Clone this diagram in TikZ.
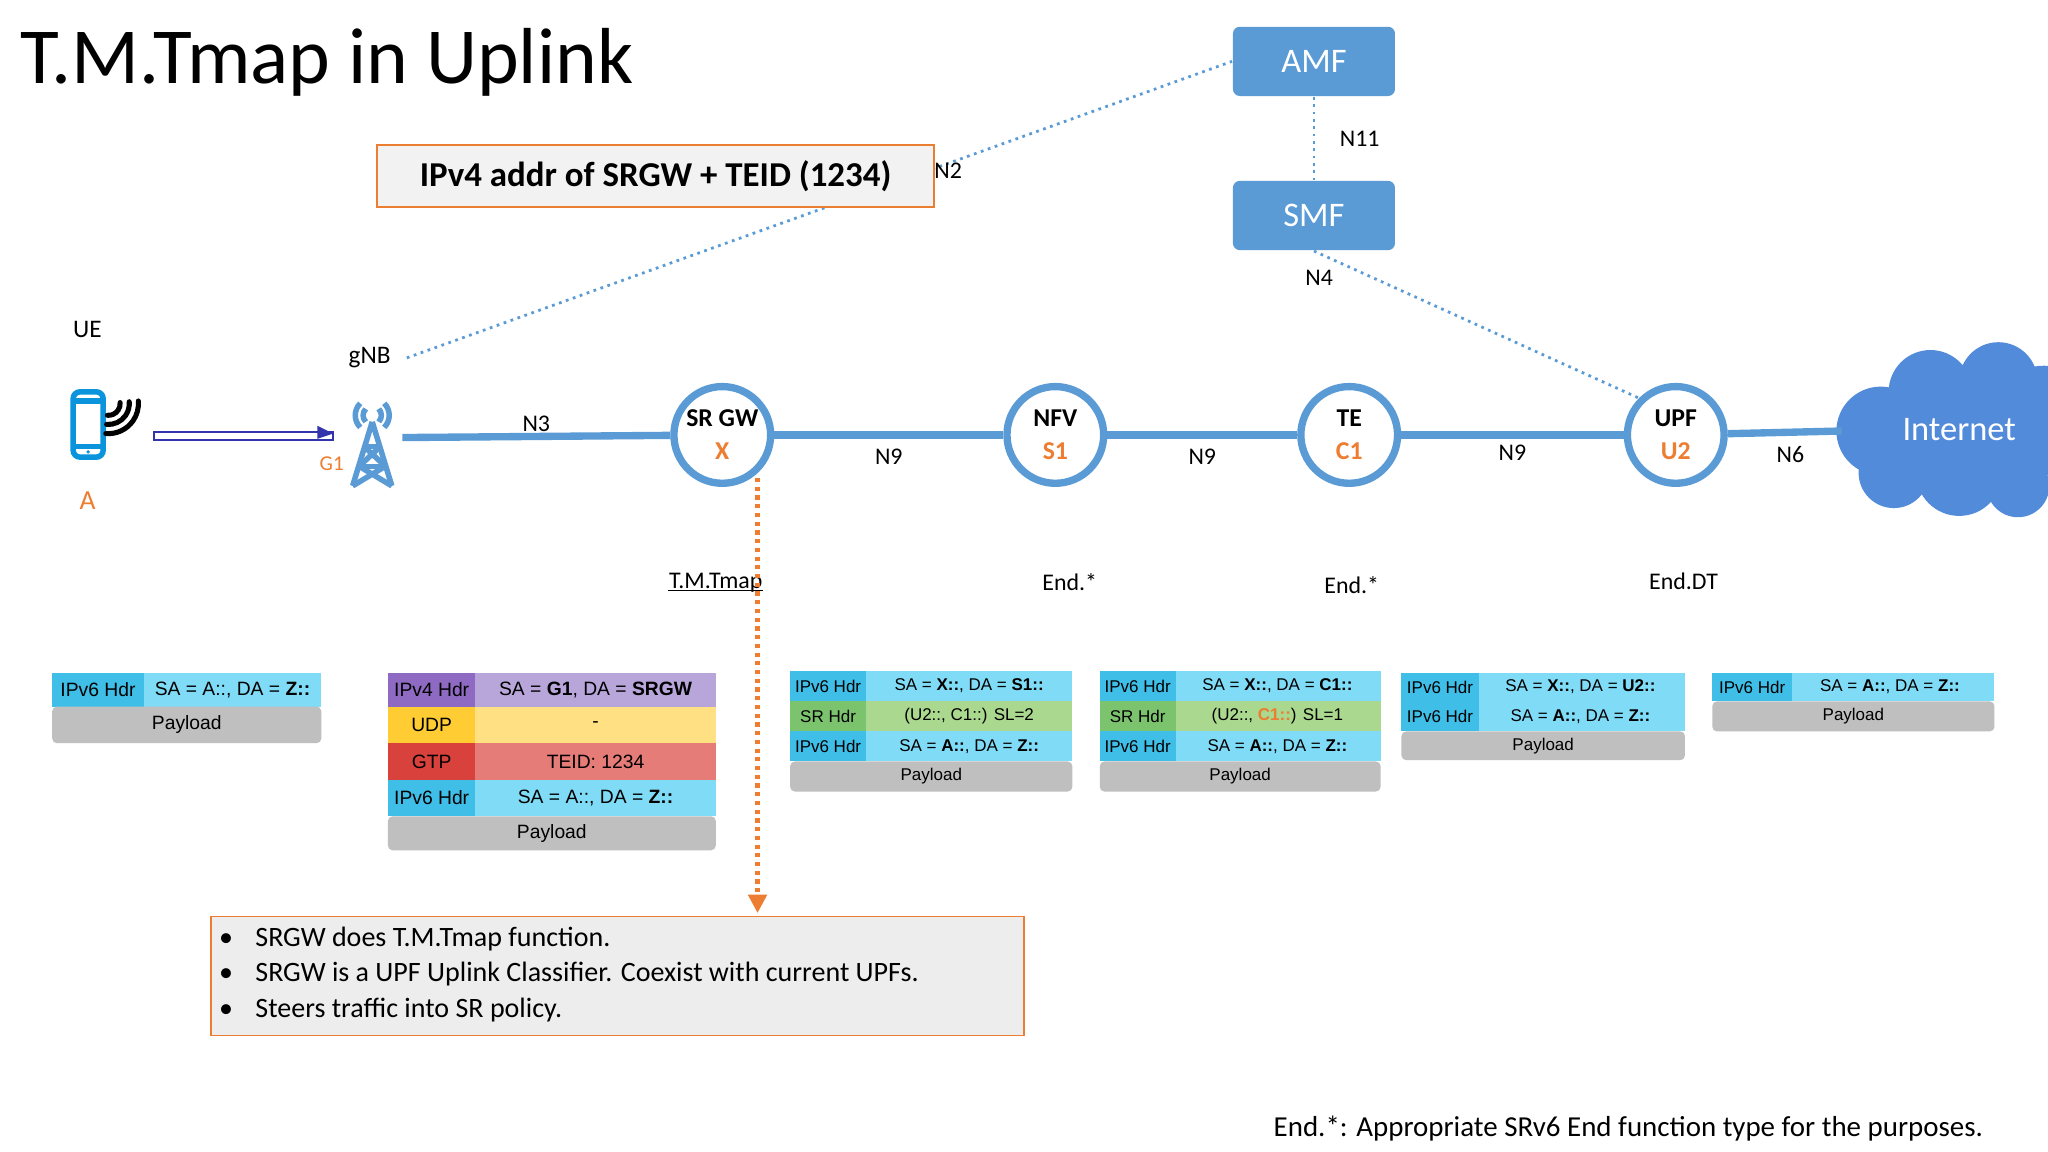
\documentclass[tikz,border=0pt]{standalone}
\usepackage{fontspec}
\setmainfont{Carlito}
\newfontfamily\arialf{Liberation Sans}
\usetikzlibrary{arrows.meta}
\definecolor{tblue}{HTML}{5B9BD5}
\definecolor{torange}{HTML}{ED7D31}
\definecolor{cyanL}{HTML}{3FBFE8}
\definecolor{cyanR}{HTML}{80DCF6}
\definecolor{grnL}{HTML}{7CC36E}
\definecolor{grnR}{HTML}{A9D88E}
\definecolor{purL}{HTML}{8E6AC2}
\definecolor{purR}{HTML}{B8A6DA}
\definecolor{yelL}{HTML}{FFCC33}
\definecolor{yelR}{HTML}{FFE083}
\definecolor{redL}{HTML}{D8413C}
\definecolor{redR}{HTML}{E67C78}
\definecolor{payg}{HTML}{BFBFBF}
\tikzset{
  box/.style={fill=tblue, text=white, minimum width=1.24cm, minimum height=0.53cm, rounded corners=1.5pt, font=\fontsize{7.5}{8}\selectfont},
  circ/.style={circle, draw=tblue, line width=1.6pt, fill=white, minimum size=0.74cm, inner sep=0pt, align=center, font=\fontsize{5.6}{7.2}\selectfont\bfseries},
  lbl/.style={font=\fontsize{5.2}{6}\selectfont, text=black},
  link/.style={tblue, line width=1.6pt},
  ctrl/.style={tblue, densely dotted, line width=0.6pt},
  tt/.style={font=\arialf\fontsize{4.2}{5}\selectfont, inner sep=0pt},
  ts/.style={font=\arialf\fontsize{3.7}{4.5}\selectfont, inner sep=0pt},
}
% row: xleft, xmid, xright, ytop, ybot, colour L, colour R, text L, text colour
\newcommand{\trow}[9]{%
  \fill[#6] (#1,#4) rectangle (#2,#5);
  \fill[#7] (#2,#4) rectangle (#3,#5);
  \node[tsel, text=#9] at ({(#1+#2)/2},{(#4+#5)/2}) {#8};
}
\newcommand{\tpay}[4]{%
  \fill[payg, rounded corners=1pt] (#1,#3) rectangle (#2,#4);
  \node[tsel] at ({(#1+#2)/2},{(#3+#4)/2}) {Payload};
}
\begin{document}
\begin{tikzpicture}[x=0.01cm, y=-0.01cm]
\useasboundingbox (0,0) rectangle (1568,882);
\fill[white] (0,0) rectangle (1568,882);

% title
\node[anchor=west, font=\fontsize{17.3}{20}\selectfont, inner sep=0pt] (title) at (15,48) {T.M.Tmap in Uplink};

% control plane
\node[box] (amf) at (1006,47) {AMF};
\node[box] (smf) at (1006,165) {SMF};
\draw[ctrl] (amf) -- (smf) node[lbl, midway, right=2pt] {N11};
\node[font=\fontsize{5.5}{6}\selectfont] (gnb) at (283,274) {gNB};
\draw[ctrl] (gnb.east) -- (amf.west);
\node[draw=torange, fill=black!5, minimum width=4.26cm, minimum height=0.44cm, font=\fontsize{7.6}{9}\selectfont\bfseries] (ipv4) at (502,135) {IPv4 addr of SRGW + TEID (1234)};
\node[lbl] (n2) at (726,131) {N2};

% UE
\node[font=\fontsize{5.5}{6}\selectfont] (ue) at (67,252) {UE};
\draw[cyan!80!blue, line width=1.2pt, rounded corners=1.5pt] (56,300) rectangle (79,350);
\draw[cyan!80!blue, line width=1.2pt] (56,307) -- (79,307) (56,342) -- (79,342);
\fill[cyan!80!blue] (67.5,346) circle (1.4);
\foreach \r in {9,16,23} \draw[black, line width=1.1pt, line cap=round] (83,309) ++(95:\r) arc (95:-5:\r);
\node[font=\fontsize{6}{7}\selectfont, text=torange] (a) at (67,383) {A};

% hollow arrow UE -> gNB
\draw[blue!60!black!80, line width=0.5pt, fill=white] (118,331) rectangle (255,337);
\fill[blue!60!black!80] (243,326) -- (255,332) -- (243,336) -- cycle;

% tower
\begin{scope}[tblue, line width=1.2pt]
  \draw (285,323) -- (270,372) (285,323) -- (300,372);
  \draw (279,342) -- (291,342) (275,357) -- (295,357);
  \draw (279,342) -- (295,357) (291,342) -- (275,357);
  \draw (275,357) -- (300,372) (295,357) -- (270,372);
  \foreach \r in {7,13} {
    \draw (285,318) ++(135:\r) arc (135:225:\r);
    \draw (285,318) ++(45:\r) arc (45:-45:\r);
  }
\end{scope}
\coordinate (gnbr) at (308,335);
\node[font=\fontsize{4.6}{5}\selectfont, text=torange] (g1) at (254,355) {G1};

% data plane
\node[circ] (srgw) at (553,333) {SR GW\\\textcolor{torange}{X}};
\node[circ] (nfv) at (808,333) {NFV\\\textcolor{torange}{S1}};
\node[circ] (te) at (1033,333) {TE\\\textcolor{torange}{C1}};
\node[circ] (upf) at (1283,333) {UPF\\\textcolor{torange}{U2}};

% cloud
\fill[tblue!90!blue] (1440,330) circle (34) (1478,300) circle (32) (1530,292) circle (30)
  (1565,322) circle (42) (1500,362) circle (33) (1450,362) circle (27) (1545,372) circle (24)
  (1500,320) circle (40) (1530,345) circle (22);
\node[font=\fontsize{7.5}{9}\selectfont, text=white] (inet) at (1500,329) {Internet};
\coordinate (inetw) at (1410,330);

\draw[link] (gnbr) -- (srgw) node[lbl, pos=0.5, above=-3pt] {N3};
\draw[link] (srgw) -- (nfv) node[lbl, pos=0.5, below=-1pt] {N9};
\draw[link] (nfv) -- (te) node[lbl, pos=0.5, below=-1pt] {N9};
\draw[link] (te) -- (upf) node[lbl, pos=0.5, below=-2pt] {N9};
\draw[link] (upf) -- (inetw) node[lbl, pos=0.55, below=-1pt] {N6};
\draw[ctrl] (smf.south) -- (upf.north west);
\node[lbl] (n4) at (1010,213) {N4};

% functions
\node[lbl, inner sep=0pt] (f1) at (548,446) {T.M.Tmap};
\draw[line width=0.4pt] ([yshift=-0.5pt]f1.base west) -- ([yshift=-0.5pt]f1.base east);
\node[lbl] (f2) at (819,446) {End.*};
\node[lbl] (f3) at (1035,448) {End.*};
\node[lbl] (f4) at (1289,445) {End.DT};

% orange dotted arrow
\coordinate (dtop) at (580,366);
\coordinate (dbot) at (580,699);
\draw[torange, densely dotted, line width=0.9pt, -{Triangle[length=4pt,width=4pt]}] (dtop) -- (dbot);

% tables
\tikzset{tsel/.style={tt}}
\trow{40}{110}{246}{515}{541}{cyanL}{cyanR}{IPv6 Hdr}{black}
\node[tt] at (178,528) {SA = A::, DA = \textbf{Z::}};
\tpay{40}{246}{541}{569}

\trow{297}{364}{548}{515}{541}{purL}{purR}{IPv4 Hdr}{black}
\node[tt] at (456,528) {SA = \textbf{G1}, DA = \textbf{SRGW}};
\trow{297}{364}{548}{541}{569}{yelL}{yelR}{UDP}{black}
\node[tt] at (456,555) {-};
\trow{297}{364}{548}{569}{597}{redL}{redR}{GTP}{black}
\node[tt] at (456,583) {TEID: 1234};
\trow{297}{364}{548}{597}{625}{cyanL}{cyanR}{IPv6 Hdr}{black}
\node[tt] at (456,611) {SA = A::, DA = \textbf{Z::}};
\tpay{297}{548}{625}{651}

\tikzset{tsel/.style={ts}}
\trow{605}{663}{821}{514}{537}{cyanL}{cyanR}{IPv6 Hdr}{black}
\node[ts] at (742,525) {SA = \textbf{X::}, DA = \textbf{S1::}};
\trow{605}{663}{821}{537}{560}{grnL}{grnR}{SR Hdr}{black}
\node[ts] at (742,548) {(U2::, C1::) SL=2};
\trow{605}{663}{821}{560}{583}{cyanL}{cyanR}{IPv6 Hdr}{black}
\node[ts] at (742,572) {SA = \textbf{A::}, DA = \textbf{Z::}};
\tpay{605}{821}{583}{606}

\trow{842}{900}{1057}{514}{537}{cyanL}{cyanR}{IPv6 Hdr}{black}
\node[ts] at (978,525) {SA = \textbf{X::}, DA = \textbf{C1::}};
\trow{842}{900}{1057}{537}{560}{grnL}{grnR}{SR Hdr}{black}
\node[ts] at (978,548) {(U2::, \textcolor{torange}{\textbf{C1::}}) SL=1};
\trow{842}{900}{1057}{560}{583}{cyanL}{cyanR}{IPv6 Hdr}{black}
\node[ts] at (978,572) {SA = \textbf{A::}, DA = \textbf{Z::}};
\tpay{842}{1057}{583}{606}

\trow{1073}{1132}{1290}{515}{537}{cyanL}{cyanR}{IPv6 Hdr}{black}
\node[ts] at (1210,526) {SA = \textbf{X::}, DA = \textbf{U2::}};
\trow{1073}{1132}{1290}{537}{560}{cyanL}{cyanR}{IPv6 Hdr}{black}
\node[ts] at (1210,549) {SA = \textbf{A::}, DA = \textbf{Z::}};
\tpay{1073}{1290}{560}{582}

\trow{1311}{1372}{1527}{515}{537}{cyanL}{cyanR}{IPv6 Hdr}{black}
\node[ts] at (1447,526) {SA = \textbf{A::}, DA = \textbf{Z::}};
\tpay{1311}{1527}{537}{560}

% notes box
\node[draw=torange, fill=black!7, minimum width=6.22cm, minimum height=0.91cm, anchor=north west, inner sep=0pt] (note) at (161,701) {};
\node[anchor=west, font=\fontsize{6.1}{7.8}\selectfont, align=left, inner sep=0pt] (notes) at (167,746) {%
  \textbullet\hspace{0.8em}SRGW does T.M.Tmap function.\\
  \textbullet\hspace{0.8em}SRGW is a UPF Uplink Classifier. Coexist with current UPFs.\\
  \textbullet\hspace{0.8em}Steers traffic into SR policy.};

% footnote
\node[anchor=east, font=\fontsize{6.3}{7}\selectfont, inner sep=0pt] (foot) at (1519,864) {End.*: Appropriate SRv6 End function type for the purposes.};
\end{tikzpicture}
\end{document}
